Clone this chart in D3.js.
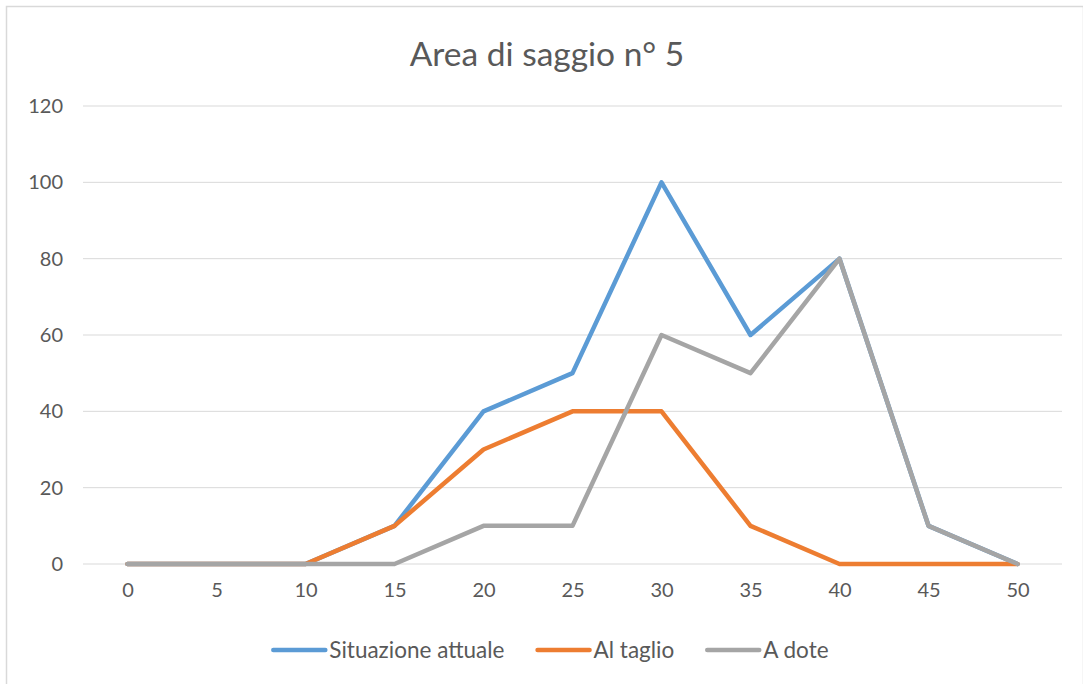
<!DOCTYPE html>
<html>
<head>
<meta charset="utf-8">
<script src="https://cdn.jsdelivr.net/npm/d3@7"></script>
<style>
  html, body { margin: 0; padding: 0; background: #fff; }
  svg { display: block; font-family: Lato, "Open Sans", sans-serif; }
</style>
</head>
<body>
<svg id="chart" width="1083" height="684"></svg>
<script>
// Diameter classes (cm)
const categories = ["0", "5", "10", "15", "20", "25", "30", "35", "40", "45", "50"];
// Stem counts per class
const situazioneAttuale = [0, 0, 0, 10, 40, 50, 100, 60, 80, 10, 0];
const alTaglio          = [0, 0, 0, 10, 30, 40, 40, 10, 0, 0, 0];
const aDote             = [0, 0, 0, 0, 10, 10, 60, 50, 80, 10, 0];
const yTicks = [0, 20, 40, 60, 80, 100, 120];

const seriesNames = ["Situazione attuale", "Al taglio", "A dote"];
const seriesValues = [situazioneAttuale, alTaglio, aDote];
const colors = ["#5B9BD5", "#ED7D31", "#A5A5A5"];

const svg = d3.select("#chart");
const W = 1083, H = 684;
const plot = { left: 83, right: 1062, top: 106, bottom: 564 };

// chart frame
svg.append("rect")
  .attr("x", 6.5).attr("y", 6.5)
  .attr("width", W - 6).attr("height", H)
  .attr("fill", "#fff").attr("stroke", "#d9d9d9").attr("stroke-width", 1.5);

const x = d3.scalePoint()
  .domain(categories)
  .range([plot.left, plot.right])
  .padding(0.5);

const y = d3.scaleLinear()
  .domain([0, 120])
  .range([plot.bottom, plot.top]);

// horizontal gridlines
svg.append("g")
  .selectAll("line")
  .data(yTicks)
  .join("line")
  .attr("x1", plot.left).attr("x2", plot.right)
  .attr("y1", d => y(d)).attr("y2", d => y(d))
  .attr("stroke", "#d9d9d9").attr("stroke-width", 1);

// y axis labels
const yAxis = svg.append("g")
  .attr("transform", `translate(${plot.left - 20},0)`)
  .call(d3.axisLeft(y).tickValues(yTicks).tickSize(0).tickPadding(0));
yAxis.select(".domain").remove();
yAxis.selectAll("text")
  .attr("fill", "#595959").style("font-size", "20px")
  .style("font-family", "Lato, 'Open Sans', sans-serif");

// x axis labels
const xAxis = svg.append("g")
  .attr("transform", `translate(0,${plot.bottom + 19})`)
  .call(d3.axisBottom(x).tickSize(0).tickPadding(0));
xAxis.select(".domain").remove();
xAxis.selectAll("text")
  .attr("fill", "#595959").style("font-size", "20px")
  .style("font-family", "Lato, 'Open Sans', sans-serif");

// series lines
const line = d3.line()
  .x((d, i) => x(categories[i]))
  .y(d => y(d));

svg.append("g")
  .selectAll("path")
  .data(seriesValues)
  .join("path")
  .attr("d", d => line(d))
  .attr("fill", "none")
  .attr("stroke", (d, i) => colors[i])
  .attr("stroke-width", 4.5)
  .attr("stroke-linejoin", "round")
  .attr("stroke-linecap", "round");

// title
svg.append("text")
  .attr("x", 547).attr("y", 66)
  .attr("text-anchor", "middle")
  .attr("fill", "#595959")
  .style("font-size", "33.5px")
  .text("Area di saggio n° 5");

// legend
const legend = svg.append("g");
const items = legend.selectAll("g")
  .data(seriesNames)
  .join("g");
items.append("line")
  .attr("x1", 0).attr("x2", 52)
  .attr("y1", 0).attr("y2", 0)
  .attr("stroke", (d, i) => colors[i])
  .attr("stroke-width", 4.5)
  .attr("stroke-linecap", "round");
items.append("text")
  .attr("x", 56).attr("y", 7.5)
  .attr("fill", "#595959")
  .style("font-size", "22.5px")
  .text(d => d);

const gap = 33;
const widths = items.nodes().map(n => n.getBBox().width);
const total = d3.sum(widths) + gap * (widths.length - 1);
let start = 551 - total / 2;
items.attr("transform", (d, i) => {
  const tx = start;
  start += widths[i] + gap;
  return `translate(${tx},650)`;
});
</script>
</body>
</html>
